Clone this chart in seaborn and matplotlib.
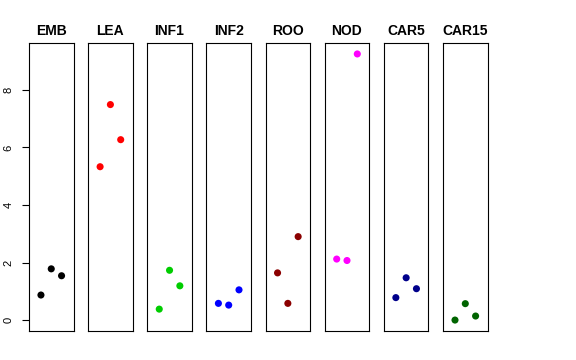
import pandas as pd
import seaborn as sns
import matplotlib.pyplot as plt

groups = ["EMB", "LEA", "INF1", "INF2", "ROO", "NOD", "CAR5", "CAR15"]
colors = ["#000000", "#FF0000", "#00CD00", "#0000FF", "#8B0000", "#FF00FF", "#00008B", "#006400"]
rep = [1, 2, 3]
values = {
    "EMB": [0.87, 1.78, 1.54],
    "LEA": [5.33, 7.49, 6.27],
    "INF1": [0.38, 1.73, 1.19],
    "INF2": [0.58, 0.52, 1.05],
    "ROO": [1.64, 0.58, 2.90],
    "NOD": [2.12, 2.07, 9.25],
    "CAR5": [0.78, 1.47, 1.09],
    "CAR15": [0.00, 0.57, 0.14],
}
yticks = [0, 2, 4, 6, 8]

df = pd.DataFrame(
    [(g, r, v) for g in groups for r, v in zip(rep, values[g])],
    columns=["group", "rep", "value"],
)

sns.set_style("ticks", {"axes.edgecolor": "black", "text.color": "black",
                        "xtick.color": "black", "ytick.color": "black"})
plt.rcParams["font.family"] = ["Liberation Sans", "DejaVu Sans"]

fig = plt.figure(figsize=(5.76, 3.6), dpi=100)
W, H = 576, 360
for i, g in enumerate(groups):
    left = 29 + i * 59.15
    ax = fig.add_axes([left / W, 29.3 / H, 44.5 / W, 287.4 / H])
    sub = df[df.group == g]
    sns.scatterplot(data=sub, x="rep", y="value", ax=ax, color=colors[i],
                    s=26, edgecolor="none", legend=False)
    ax.set_xlim(-0.16, 4.16)
    ax.set_ylim(-0.37, 9.62)
    ax.set_xticks([])
    ax.set_xlabel("")
    ax.set_ylabel("")
    ax.set_title(g, fontsize=10, fontweight="bold", pad=6, color="black")
    for sp in ax.spines.values():
        sp.set_visible(True)
        sp.set_color("black")
        sp.set_linewidth(0.8)
    if i == 0:
        ax.set_yticks(yticks)
        ax.set_yticklabels([str(t) for t in yticks], rotation=90, va="center", fontsize=8)
        ax.tick_params(axis="y", direction="out", length=5, width=0.8, pad=6,
                       left=True, colors="black")
    else:
        ax.set_yticks([])

fig.savefig("out.png", dpi=100)
